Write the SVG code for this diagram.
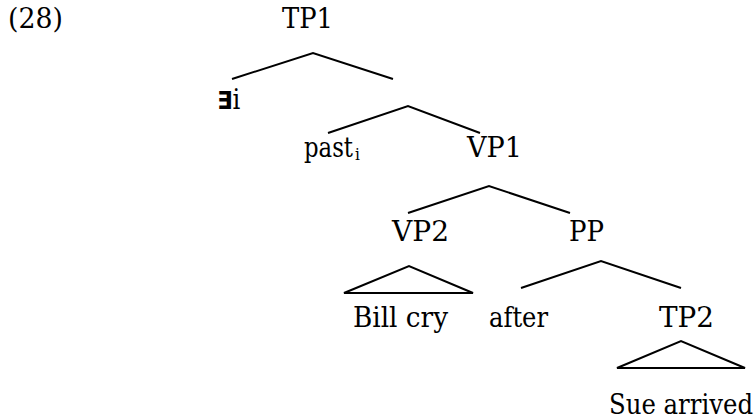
<svg xmlns="http://www.w3.org/2000/svg" width="755" height="419" viewBox="0 0 755 419">
  <style>
    .t { font-family: 'DejaVu Serif Condensed', 'DejaVu Serif', serif; font-stretch: condensed; font-size: 27px; fill: #000; }
    .sub { font-size: 17px; }
    .q { font-family: 'DejaVu Sans', 'Liberation Sans', sans-serif; font-size: 25px; font-weight: bold; }
    .edge { stroke: #000; stroke-width: 2; fill: none; stroke-linecap: butt; }
  </style>
  <rect width="755" height="419" fill="#fff"/>

  <!-- example number -->
  <text class="t" x="8" y="28" textLength="55" lengthAdjust="spacingAndGlyphs">(28)</text>

  <!-- tree nodes -->
  <g id="tp1"><text class="t" x="282" y="28" textLength="51" lengthAdjust="spacingAndGlyphs">TP1</text></g>
  <g id="exists"><text class="t" x="217" y="109"><tspan class="q">∃</tspan>i</text></g>
  <g id="past"><text class="t" x="304" y="157"><tspan textLength="49" lengthAdjust="spacingAndGlyphs">past</tspan><tspan class="sub" x="355" dy="3">i</tspan></text></g>
  <g id="vp1"><text class="t" x="467" y="157" textLength="55" lengthAdjust="spacingAndGlyphs">VP1</text></g>
  <g id="vp2"><text class="t" x="392" y="241" textLength="57" lengthAdjust="spacingAndGlyphs">VP2</text></g>
  <g id="pp"><text class="t" x="569" y="241" textLength="35" lengthAdjust="spacingAndGlyphs">PP</text></g>
  <g id="billcry"><text class="t" x="353" y="327" textLength="95" lengthAdjust="spacingAndGlyphs">Bill cry</text></g>
  <g id="after"><text class="t" x="489" y="327" textLength="59" lengthAdjust="spacingAndGlyphs">after</text></g>
  <g id="tp2"><text class="t" x="659" y="327" textLength="55" lengthAdjust="spacingAndGlyphs">TP2</text></g>
  <g id="suearrived"><text class="t" x="609" y="414" textLength="144" lengthAdjust="spacingAndGlyphs">Sue arrived</text></g>

  <!-- branches and roof triangles -->
  <g id="connectors">
    <polyline class="edge" points="232,79 313,53 393,79"/>
    <polyline class="edge" points="328,133 408,106 480,133"/>
    <polyline class="edge" points="408,213 489,186 570,213"/>
    <polyline class="edge" points="521,288 601,261 681,288"/>
    <polygon class="edge" points="344,293 409,266 473,293"/>
    <polygon class="edge" points="617,368 681,341 745,368"/>
  </g>
</svg>
